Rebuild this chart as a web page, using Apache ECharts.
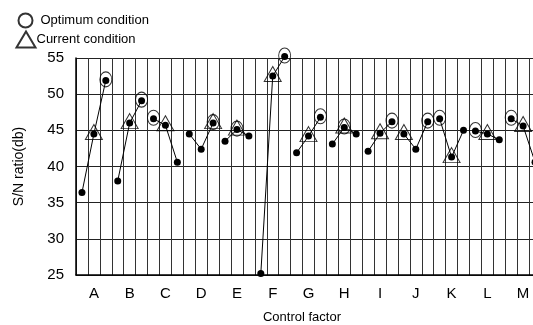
<!DOCTYPE html>
<html>
<head>
<meta charset="utf-8">
<script src="https://cdn.jsdelivr.net/npm/echarts@6/dist/echarts.min.js"></script>
<style>
  html, body { margin: 0; padding: 0; background: #fff; }
  #chart { width: 533px; height: 325px; }
</style>
</head>
<body>
<div id="chart"></div>
<script>
// Control factors and S/N ratio (db) for levels 1..3 of each factor
const factors = ['A', 'B', 'C', 'D', 'E', 'F', 'G', 'H', 'I', 'J', 'K', 'L', 'M'];
const snLevel1 = [36.4, 38.0, 46.6, 44.5, 43.5, 25.2, 41.9, 43.1, 42.1, 44.5, 46.6, 44.9, 46.6];
const snLevel2 = [44.5, 46.0, 45.7, 42.4, 45.1, 52.5, 44.2, 45.4, 44.6, 42.4, 41.3, 44.5, 45.6];
const snLevel3 = [51.9, 49.1, 40.6, 46.0, 44.2, 55.2, 46.8, 44.5, 46.2, 46.2, 45.0, 43.7, 40.6];
// chosen level (1-based) per factor
const optimumLevel = [3, 3, 1, 3, 2, 3, 3, 2, 3, 3, 1, 1, 1];
const currentLevel = [2, 2, 2, 3, 2, 2, 2, 2, 2, 1, 2, 2, 2];
const yTicks = { min: 25, max: 55, step: 5 };

const FONT = 'Liberation Sans, Arial, sans-serif';
const ellipse = 'path://M0,-1A1,1,0,1,1,0,1A1,1,0,1,1,0,-1Z';

const levels = [snLevel1, snLevel2, snLevel3];
const categories = [];
factors.forEach(f => { for (let l = 1; l <= 3; l++) categories.push(f + l); });

// one line per factor, joining its three levels only
const factorSeries = factors.map((f, i) => {
  const data = categories.map(() => '-');
  for (let l = 0; l < 3; l++) data[i * 3 + l] = levels[l][i];
  return {
    name: f,
    type: 'line',
    data: data,
    clip: false,
    symbol: 'circle',
    symbolSize: 7,
    showSymbol: true,
    itemStyle: { color: '#000' },
    lineStyle: { color: '#000', width: 1 },
    z: 4
  };
});

const pick = (lv) => factors.map((f, i) => [i * 3 + lv[i] - 1, levels[lv[i] - 1][i]]);

const chart = echarts.init(document.getElementById('chart'));
chart.setOption({
  animation: false,
  textStyle: { fontFamily: FONT, color: '#000' },
  legend: [
    {
      data: [{ name: 'Optimum condition', icon: ellipse }],
      left: 16, top: 11, padding: 0, orient: 'vertical',
      itemWidth: 14, itemHeight: 16, selectedMode: false,
      textStyle: { fontSize: 13, color: '#000', fontFamily: FONT, padding: [0, 0, 0, 3] }
    },
    {
      data: [{ name: 'Current condition', icon: 'triangle' }],
      left: 14, top: 29, padding: 0, orient: 'vertical',
      itemWidth: 19, itemHeight: 16, selectedMode: false,
      textStyle: { fontSize: 13, color: '#000', fontFamily: FONT, padding: [0, 0, 0, -4] }
    }
  ],
  grid: { left: 76, top: 58, width: 465, height: 217, outerBoundsMode: 'none', containLabel: false },
  xAxis: {
    type: 'category',
    data: categories,
    boundaryGap: true,
    name: 'Control factor',
    nameLocation: 'middle',
    nameGap: 36,
    nameTextStyle: { fontSize: 13, color: '#000', fontFamily: FONT, padding: [0, 13, 0, 0] },
    axisLine: { lineStyle: { color: '#000', width: 1.5 } },
    axisTick: { show: false },
    axisLabel: {
      interval: (idx) => idx % 3 === 1,
      formatter: (v) => v.charAt(0),
      fontSize: 15, color: '#000', margin: 11, fontFamily: FONT
    },
    splitLine: { show: true, interval: 0, lineStyle: { color: '#333', width: 1 } }
  },
  yAxis: {
    type: 'value',
    min: yTicks.min, max: yTicks.max, interval: yTicks.step,
    name: 'S/N ratio(db)',
    nameLocation: 'middle',
    nameRotate: 90,
    nameGap: 50,
    nameTextStyle: { fontSize: 14, color: '#000', fontFamily: FONT },
    axisLine: { show: true, lineStyle: { color: '#000', width: 1.5 } },
    axisTick: { show: false },
    axisLabel: { fontSize: 15, color: '#000', margin: 12, fontFamily: FONT },
    splitLine: { show: true, lineStyle: { color: '#222', width: 1.2 } }
  },
  series: factorSeries.concat([
    {
      name: 'Optimum condition',
      type: 'scatter',
      data: pick(optimumLevel),
      clip: false,
      symbol: ellipse,
      symbolSize: [12, 15],
      symbolOffset: [0, -1],
      itemStyle: { color: 'none', borderColor: '#000', borderWidth: 1 },
      z: 5
    },
    {
      name: 'Current condition',
      type: 'scatter',
      data: pick(currentLevel),
      clip: false,
      symbol: 'triangle',
      symbolSize: [17, 15],
      symbolOffset: [0, -2],
      itemStyle: { color: 'none', borderColor: '#000', borderWidth: 1 },
      z: 5
    }
  ])
});
</script>
</body>
</html>
